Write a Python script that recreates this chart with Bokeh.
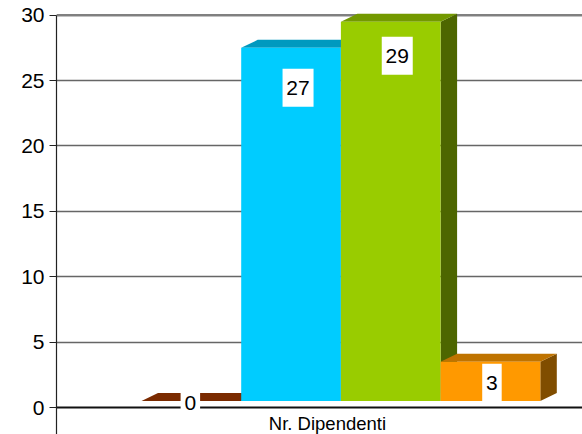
from bokeh.plotting import figure
from bokeh.embed import file_html
from bokeh.resources import INLINE
from bokeh.models import FixedTicker, Range1d, Span
from bokeh.core.properties import value

values = [0, 27, 29, 3]
labels = ["0", "27", "29", "3"]
category = "Nr. Dipendenti"
y_ticks = [0, 5, 10, 15, 20, 25, 30]
front_colors = ["#7a2a00", "#00ccff", "#99cc00", "#ff9900"]
top_colors = ["#7a2a00", "#0099bf", "#739900", "#bf7300"]
side_colors = ["#5c2000", "#007399", "#4d6600", "#804d00"]

# layout helpers
PX_Y = 1 / 13.08          # value units per pixel
PX_X = 1 / 99.7           # slot units per pixel
BASE = 6.5 * PX_Y         # front base sits slightly above the zero line
DX, DY = 16.5 * PX_X, 8 * PX_Y
label_dx = [-1, 7, 6.5, 1.5]    # px from bar centre
label_dy = [2, 40, 34, 21]      # px below bar front top
FRAME_TOP_VAL = 397 * PX_Y
FRAME_BOT_VAL = -27 * PX_Y

p = figure(width=582, height=434, output_backend="svg", toolbar_location=None,
           x_range=Range1d(-85 * PX_X, 441 * PX_X),
           y_range=Range1d(FRAME_BOT_VAL, FRAME_TOP_VAL),
           x_axis_location=None, min_border_left=56, min_border_right=0,
           min_border_top=10, min_border_bottom=0, outline_line_color=None,
           background_fill_color="white", border_fill_color="white")

p.xgrid.visible = False
p.ygrid.ticker = FixedTicker(ticks=[t for t in y_ticks if t != 0])
p.ygrid.grid_line_color = "#666666"
p.ygrid.grid_line_width = 1.3

top_line = Span(location=30, dimension="width", line_color="#808080", line_width=2.2, level="underlay")
zero_line = Span(location=0, dimension="width", line_color="#111111", line_width=2, level="underlay")
p.add_layout(top_line)
p.add_layout(zero_line)

ax = p.yaxis[0]
ax.ticker = FixedTicker(ticks=y_ticks)
ax.bounds = (FRAME_BOT_VAL, 30)
ax.major_tick_in = 0
ax.major_tick_out = 7
ax.minor_tick_line_color = None
ax.major_label_standoff = 5
ax.major_label_text_font = "Liberation Sans"
ax.major_label_text_font_size = "21px"
ax.major_label_text_color = "#000000"
ax.axis_line_color = "#222222"
ax.axis_line_width = 1.2
ax.major_tick_line_color = "#222222"

for i, v in enumerate(values):
    top = BASE + v
    l, r = i, i + 1
    if v > 0:
        p.patch([r, r + DX, r + DX, r], [BASE, BASE + DY, top + DY, top],
                fill_color=side_colors[i], line_color=None)
    p.patch([l, l + DX, r + DX, r], [top, top + DY, top + DY, top],
            fill_color=top_colors[i], line_color=None)
    if v > 0:
        p.quad(left=[l], right=[r], bottom=[BASE], top=[top],
               fill_color=front_colors[i], line_color=None)

for i, v in enumerate(values):
    cx = i + 0.5 + label_dx[i] * PX_X
    cy = BASE + v - label_dy[i] * PX_Y
    p.rect([cx], [cy], width=[8 + 11.5 * len(labels[i])], height=[38],
           width_units="screen", height_units="screen",
           fill_color="white", line_color=None)
    p.text([cx], [cy], text=[labels[i]], text_align="center", text_baseline="middle",
           text_font=value("Liberation Sans"), text_font_size="21px", text_color="#000000")

p.text([1.865], [-16 * PX_Y], text=[category], text_align="center", text_baseline="middle",
       text_font=value("Liberation Sans"), text_font_size="18.5px", text_color="#000000")

open("out.html", "w").write(file_html(p, INLINE))
